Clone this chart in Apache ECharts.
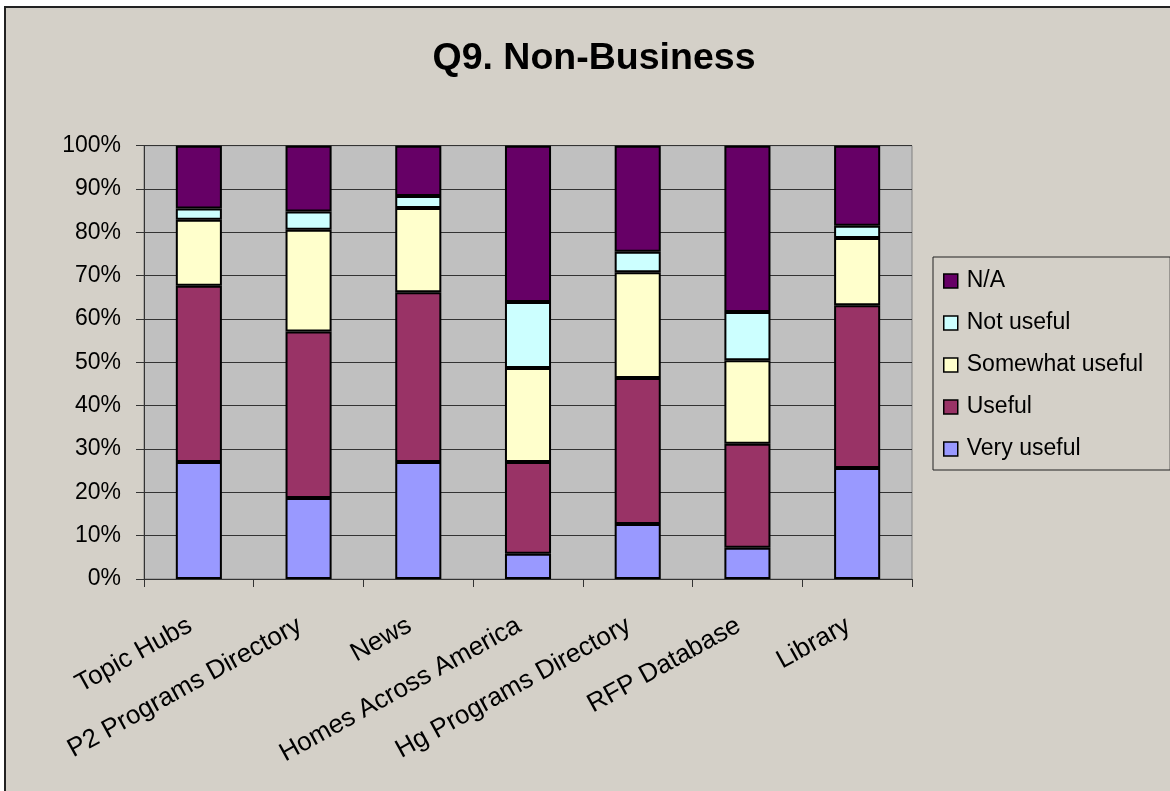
<!DOCTYPE html>
<html>
<head>
<meta charset="utf-8">
<script src="https://cdn.jsdelivr.net/npm/echarts@6/dist/echarts.min.js"></script>
<style>
html,body{margin:0;padding:0;background:#ffffff;}
#chart{width:1170px;height:791px;}
</style>
</head>
<body>
<div id="chart"></div>
<script>
var categories = ['Topic Hubs','P2 Programs Directory','News','Homes Across America','Hg Programs Directory','RFP Database','Library'];
var veryUseful = [27.0, 18.7, 27.0, 5.8, 12.7, 7.2, 25.6];
var useful = [40.7, 38.4, 39.2, 21.2, 33.7, 24.0, 37.6];
var somewhatUseful = [15.2, 23.5, 19.4, 21.7, 24.4, 19.3, 15.5];
var notUseful = [2.6, 4.2, 2.8, 15.2, 4.7, 11.1, 2.8];
var naValues = [14.5, 15.2, 11.6, 36.1, 24.5, 38.4, 18.5];
var seriesNames = ['Very useful','Useful','Somewhat useful','Not useful','N/A'];
var seriesColors = ['#9999FF','#993366','#FFFFCC','#CCFFFF','#660066'];
var seriesData = [veryUseful, useful, somewhatUseful, notUseful, naValues];
var legendOrder = ['N/A','Not useful','Somewhat useful','Useful','Very useful'];

var FONT = '"Liberation Sans", Arial, sans-serif';
var chart = echarts.init(document.getElementById('chart'), null, {renderer:'canvas'});

var series = seriesNames.map(function(name, i){
  return {
    name: name,
    type: 'bar',
    stack: 'total',
    barWidth: '42%',
    data: seriesData[i],
    itemStyle: {color: seriesColors[i], borderColor: '#000000', borderWidth: 2},
    emphasis: {disabled: true}
  };
});

chart.setOption({
  animation: false,
  backgroundColor: '#ffffff',
  graphic: [{
    type: 'rect',
    z: -10,
    silent: true,
    shape: {x: 5, y: 7, width: 1200, height: 820},
    style: {fill: '#D4D0C8', stroke: '#222222', lineWidth: 2}
  }],
  title: {
    text: 'Q9. Non-Business',
    left: 589,
    top: 35,
    textAlign: 'center',
    textStyle: {fontFamily: FONT, fontWeight: 'bold', fontSize: 37.5, color: '#000000'}
  },
  legend: {
    orient: 'vertical',
    left: 933,
    top: 257,
    data: legendOrder,
    itemWidth: 14,
    itemHeight: 14,
    itemGap: 19,
    padding: [12.5, 27, 9.5, 10],
    borderColor: '#222222',
    borderWidth: 1,
    icon: 'rect',
    itemStyle: {borderWidth: 1.5},
    textStyle: {fontFamily: FONT, fontSize: 23, color: '#000000', padding: [0,0,0,4]}
  },
  grid: {
    left: 144,
    right: 258,
    top: 145.7,
    bottom: 212,
    show: true,
    backgroundColor: '#C0C0C0',
    borderColor: '#808080',
    borderWidth: 1,
    containLabel: false
  },
  xAxis: {
    type: 'category',
    data: categories,
    axisLine: {lineStyle: {color: '#333333', width: 1}},
    axisTick: {show: true, length: 8, alignWithLabel: false, lineStyle: {color: '#333333'}},
    axisLabel: {
      interval: 0,
      rotate: 29,
      margin: 40,
      padding: [0, 10, 0, 0],
      fontFamily: FONT,
      fontSize: 26,
      color: '#000000'
    },
    splitLine: {show: false}
  },
  yAxis: {
    type: 'value',
    min: 0,
    max: 100,
    interval: 10,
    axisLine: {show: true, lineStyle: {color: '#333333', width: 1}},
    axisTick: {show: true, length: 8, lineStyle: {color: '#333333'}},
    axisLabel: {formatter: '{value}%', margin: 23, fontFamily: FONT, fontSize: 23, color: '#000000'},
    splitLine: {show: true, lineStyle: {color: '#333333', width: 1}}
  },
  series: series
});
</script>
</body>
</html>
